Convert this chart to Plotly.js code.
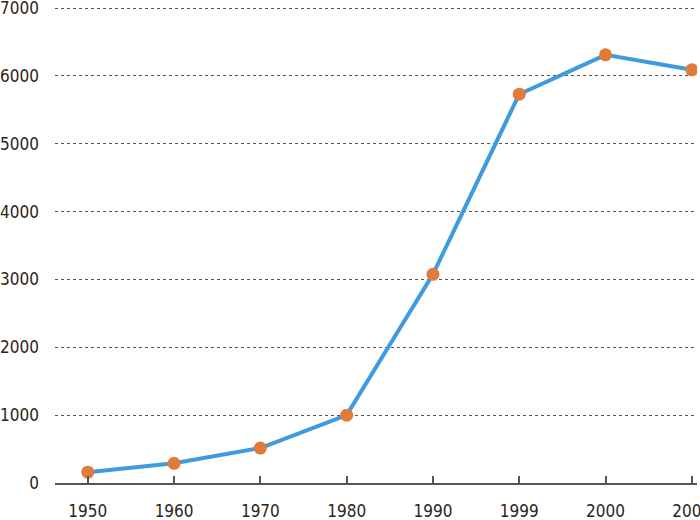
<!DOCTYPE html>
<html><head><meta charset="utf-8">
<script src="https://cdn.plot.ly/plotly-3.0.1.min.js"></script>
<style>body{margin:0;background:#fff}#c{width:700px;height:520px}
#c text{font-stretch:condensed !important}</style>
</head><body><div id="c"></div>
<script>
const years = ['1950','1960','1970','1980','1990','1999','2000','2001'];
const values = [160, 290, 515, 1000, 3075, 5730, 6310, 6090];
const yTicks = [0,1000,2000,3000,4000,5000,6000,7000];

const font = {family:'"DejaVu Sans Condensed","DejaVu Sans",sans-serif', size:17, color:'#2b2418'};
Plotly.newPlot('c', [{
  x: years, y: values, type:'scatter', mode:'lines+markers',
  line:{color:'#3f9ade', width:4},
  marker:{color:'#e07b3b', size:13}
}], {
  width:700, height:520,
  margin:{l:55, r:3, t:6, b:37},
  paper_bgcolor:'#fff', plot_bgcolor:'#fff',
  showlegend:false,
  font: font,
  xaxis:{type:'category', range:[-0.38, 7.06], showgrid:false, zeroline:false,
    showline:true, linecolor:'#555', linewidth:1.5,
    ticks:'inside', ticklen:7, tickcolor:'#555', tickwidth:1.5,
    ticklabelstandoff:12, ticklabeloverflow:'allow', tickfont:font, automargin:false},
  yaxis:{range:[0,7030], tickvals:yTicks, ticktext:yTicks.map(String),
    showgrid:true, gridcolor:'#555', griddash:'dot', gridwidth:1,
    zeroline:false, showline:false, ticks:'', ticklabelstandoff:15,
    ticklabeloverflow:'allow', tickfont:font, automargin:false}
}, {displayModeBar:false});
</script></body></html>
